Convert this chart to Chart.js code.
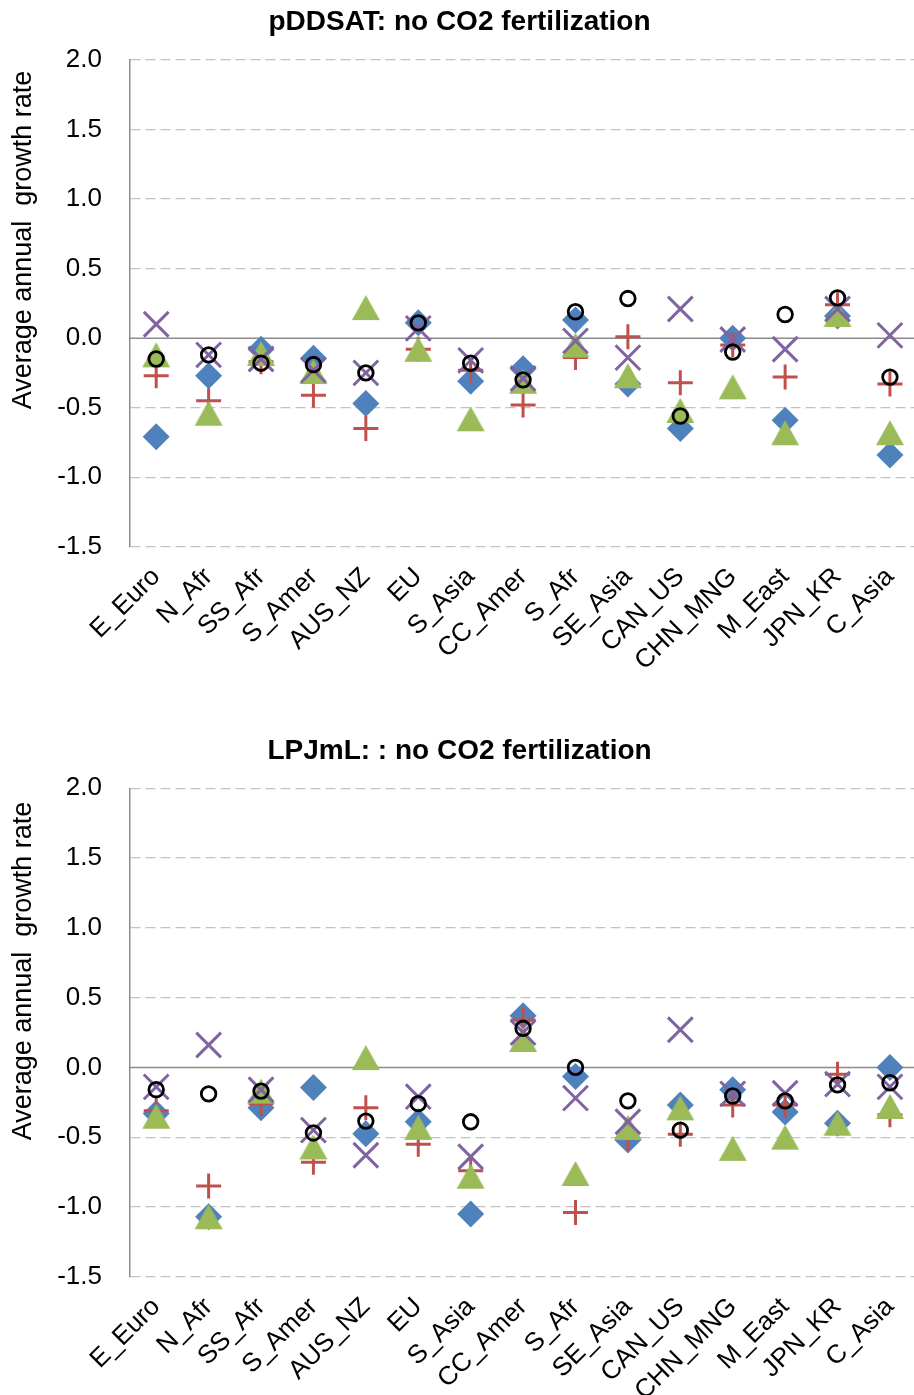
<!DOCTYPE html>
<html><head><meta charset="utf-8">
<script src="https://cdn.jsdelivr.net/npm/chart.js@4.4.1/dist/chart.umd.min.js"></script>
<style>
html,body{margin:0;padding:0;background:#fff;overflow:hidden;}
#wrap{width:914px;height:1395px;position:relative;overflow:hidden;}
.c{position:absolute;left:0;width:919px;}
</style></head><body>
<div id="wrap">
<div class="c" style="top:0;height:730px"><canvas id="c1"></canvas></div>
<div class="c" style="top:730px;height:665px"><canvas id="c2"></canvas></div>
</div>
<script>
const categories = ['E_Euro','N_Afr','SS_Afr','S_Amer','AUS_NZ','EU','S_Asia','CC_Amer','S_Afr','SE_Asia','CAN_US','CHN_MNG','M_East','JPN_KR','C_Asia'];
const yTickLabels = ['-1.5','-1.0','-0.5','0.0','0.5','1.0','1.5','2.0'];
const titleTop = 'pDDSAT: no CO2 fertilization';
const titleBottom = 'LPJmL: : no CO2 fertilization';
const yAxisTitle = 'Average annual  growth rate';

// Top chart (pDDSAT)
const topDiamond  = [-0.71,-0.27,-0.08,-0.145,-0.47, 0.11,-0.31,-0.22, 0.13,-0.33,-0.65, 0.00,-0.59, 0.16,-0.84];
const topPlus     = [-0.27,-0.45,-0.17,-0.41,-0.65,-0.08,-0.23,-0.48,-0.14, 0.01,-0.32,-0.05,-0.28, 0.24,-0.33];
const topTriangle = [-0.12,-0.54,-0.11,-0.24, 0.22,-0.08,-0.58,-0.31,-0.05,-0.27,-0.52,-0.35,-0.68, 0.17,-0.68];
const topCross    = [ 0.10,-0.12,-0.15,-0.23,-0.25, 0.07,-0.16,-0.29,-0.02,-0.14, 0.21,-0.01,-0.08, 0.21, 0.02];
const topCircle   = [-0.15,-0.12,-0.18,-0.19,-0.25, 0.11,-0.18,-0.30, 0.19, 0.285,-0.56,-0.10, 0.17, 0.29,-0.28];

// Bottom chart (LPJmL)
const botDiamond  = [-0.33,-1.07,-0.29,-0.145,-0.475,-0.39,-1.05, 0.37,-0.065,-0.52,-0.27,-0.16,-0.32,-0.40, 0.00];
const botPlus     = [-0.31,-0.85,-0.26,-0.68,-0.29,-0.55,-0.74, 0.34,-1.04,-0.51,-0.48,-0.27,-0.27,-0.05,-0.34];
const botTriangle = [-0.35,-1.07,-0.17,-0.57, 0.07,-0.43,-0.78, 0.20,-0.76,-0.43,-0.29,-0.58,-0.50,-0.40,-0.28];
const botCross    = [-0.14, 0.16,-0.16,-0.45,-0.63,-0.21,-0.64, 0.25,-0.22,-0.39, 0.27,-0.19,-0.185,-0.12,-0.14];
const botCircle   = [-0.16,-0.19,-0.17,-0.47,-0.385,-0.26,-0.39, 0.28, 0.00,-0.24,-0.45,-0.205,-0.24,-0.125,-0.11];

const FONT = "'Liberation Sans', Arial, sans-serif";
Chart.defaults.font.family = FONT;
Chart.defaults.color = '#000';

function triangleImage(w, h, color) {
  const c = document.createElement('canvas');
  c.width = w + 2; c.height = h + 2;
  const g = c.getContext('2d');
  g.fillStyle = color;
  g.beginPath();
  g.moveTo((w + 2) / 2, 1);
  g.lineTo(w + 1, h + 1);
  g.lineTo(1, h + 1);
  g.closePath();
  g.fill();
  return c;
}
const triImg = triangleImage(28, 25, '#9BBB59');

const decor = {
  id: 'decor',
  beforeDatasetsDraw(chart) {
    const {ctx, chartArea, scales} = chart;
    const py = scales.y.getPixelForValue(0);
    ctx.save();
    ctx.strokeStyle = '#8C8C8C';
    ctx.lineWidth = 1.5;
    ctx.beginPath();
    ctx.moveTo(chartArea.left, py);
    ctx.lineTo(chartArea.right, py);
    ctx.stroke();
    ctx.restore();
  },
  afterDraw(chart, args, opts) {
    const ctx = chart.ctx;
    ctx.save();
    ctx.translate(opts.x, opts.y);
    ctx.rotate(-Math.PI / 2);
    ctx.font = '27px ' + FONT;
    ctx.fillStyle = '#000';
    ctx.textAlign = 'center';
    ctx.textBaseline = 'middle';
    ctx.fillText(opts.text, 0, 0);
    ctx.restore();
  }
};

function makeChart(id, title, d, lay) {
  const ds = (label, data, extra, order) => Object.assign({
    label, data, showLine: false, order, borderWidth: 0
  }, extra);
  new Chart(document.getElementById(id), {
    type: 'line',
    data: {
      labels: categories,
      datasets: [
        ds('Diamond', d[0], {pointStyle: 'rectRot', pointRadius: 13.5, backgroundColor: '#4F81BD', borderColor: '#4F81BD', pointBorderWidth: 0}, 5),
        ds('Plus', d[1], {pointStyle: 'cross', pointRadius: 12.5, borderColor: '#C0504D', backgroundColor: '#C0504D', pointBorderWidth: 3}, 4),
        ds('Triangle', d[2], {pointStyle: triImg, pointRadius: 13, backgroundColor: '#9BBB59', borderColor: '#9BBB59'}, 3),
        ds('Cross', d[3], {pointStyle: 'crossRot', pointRadius: 17.5, borderColor: '#8064A2', backgroundColor: '#8064A2', pointBorderWidth: 3}, 2),
        ds('Circle', d[4], {pointStyle: 'circle', pointRadius: 7.3, borderColor: '#000', backgroundColor: 'rgba(0,0,0,0)', pointBorderWidth: 2.8}, 1)
      ]
    },
    options: {
      responsive: true,
      maintainAspectRatio: false,
      animation: false,
      events: [],
      layout: {autoPadding: false, padding: {left: 0, right: 0, top: 0, bottom: 0}},
      plugins: {
        legend: {display: false},
        tooltip: {enabled: false},
        title: {
          display: true, text: title, color: '#000',
          font: {size: 28, weight: 'bold', family: FONT},
          padding: {top: lay.tTop, bottom: lay.tBot}
        },
        decor: {x: 24, y: lay.yTitleY, text: yAxisTitle}
      },
      scales: {
        x: {
          type: 'category', offset: true,
          grid: {display: false},
          border: {display: false},
          ticks: {autoSkip: false, maxRotation: 45, minRotation: 45, font: {size: 26}, padding: 7, color: '#000'},
          afterFit(s) { s.height = lay.xH; }
        },
        y: {
          min: -1.5, max: 2.0,
          grid: {
            drawTicks: false, lineWidth: 1.3,
            color: c => (c.tick && c.tick.value === 0) ? 'rgba(0,0,0,0)' : '#C3C3C3'
          },
          border: {display: true, color: '#8C8C8C', width: 1.5, dash: [10, 5]},
          ticks: {
            stepSize: 0.5, padding: 28, font: {size: 26}, color: '#000',
            callback: v => yTickLabels[Math.round((v + 1.5) / 0.5)]
          },
          afterFit(s) { s.width = 130; }
        }
      }
    },
    plugins: [decor]
  });
}

makeChart('c1', titleTop, [topDiamond, topPlus, topTriangle, topCross, topCircle],
  {tTop: 5, tBot: 21.5, xH: 183.3, yTitleY: 240});
makeChart('c2', titleBottom, [botDiamond, botPlus, botTriangle, botCross, botCircle],
  {tTop: 4, tBot: 20.7, xH: 118.3, yTitleY: 241});
</script>
</body></html>
